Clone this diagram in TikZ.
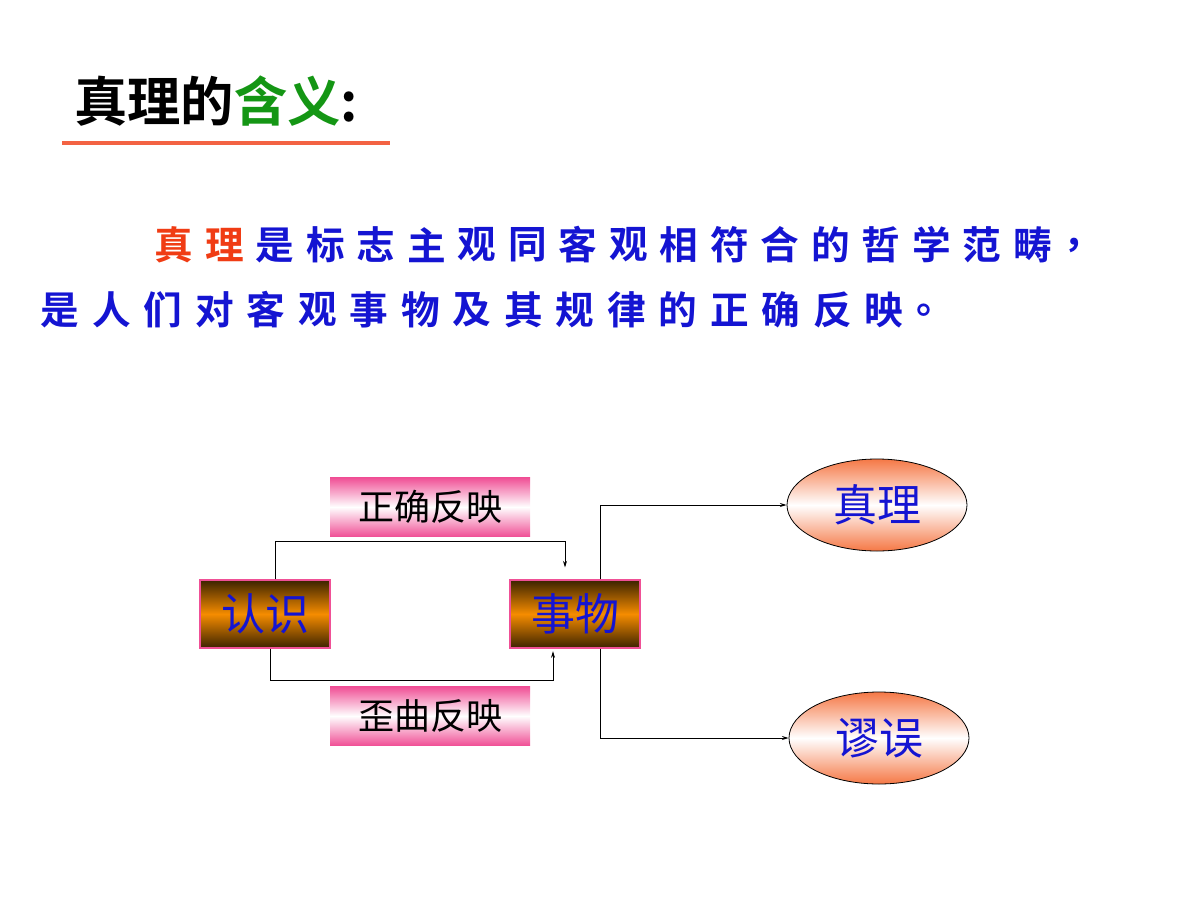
\documentclass[tikz,border=0pt]{standalone}
\usepackage{fontspec}
\setmainfont{Liberation Sans}
\newfontfamily\cjk{Noto Sans CJK SC}
\newfontfamily\cjkb{Noto Sans CJK SC Bold}
\usetikzlibrary{shapes.geometric,arrows.meta}
\definecolor{tblue}{RGB}{20,20,210}
\definecolor{tgreen}{RGB}{20,150,20}
\definecolor{tred}{RGB}{240,60,20}
\definecolor{brn}{RGB}{60,35,0}
\definecolor{org}{RGB}{245,140,0}
\definecolor{pnk}{RGB}{240,80,150}
\definecolor{eorg}{RGB}{245,120,70}
\begin{document}
\begin{tikzpicture}[x=0.75pt,y=-0.75pt,
  thing/.style={draw=pnk,line width=0.8pt,minimum width=97.5pt,minimum height=51pt,top color=brn,bottom color=brn,middle color=org,text=tblue,font=\cjk\fontsize{33}{33}\selectfont,inner sep=0pt},
  lab/.style={minimum width=150pt,minimum height=44pt,top color=pnk,bottom color=pnk,middle color=white,text=black,font=\cjk\fontsize{27}{27}\selectfont,inner sep=0pt},
  res/.style={ellipse,draw=black,line width=0.6pt,minimum width=135pt,minimum height=69pt,top color=eorg,bottom color=eorg,middle color=white,text=tblue,font=\cjk\fontsize{33}{33}\selectfont,inner sep=0pt},
  conn/.style={draw=black,line width=0.6pt,-{Stealth[length=5pt,width=3pt]}},
  para/.style={font=\cjkb\fontsize{29}{29}\selectfont,text=tblue,inner sep=0pt}]
\useasboundingbox (0,0) rectangle (1200,900);
\node[anchor=west,inner sep=0pt,font=\cjkb\fontsize{40}{40}\selectfont] (title) at (74,101) {真理的\textcolor{tgreen}{含义}:};
\draw[tred!80,line width=3pt] (62,143) -- (390,143);
% paragraph
\foreach \c [count=\i from 0] in {真,理}
  \node[para,text=tred] (pa\i) at (174+\i*50.5,245) {\c};
\foreach \c [count=\i from 2] in {是,标,志,主,观,同,客,观,相,符,合,的,哲,学,范,畴,，}
  \node[para] (pa\i) at (174+\i*50.5,245) {\c};
\foreach \c [count=\i from 0] in {是,人,们,对,客,观,事,物,及,其,规,律,的,正,确,反,映,。}
  \node[para] (pb\i) at (60+\i*51.5,310) {\c};
% diagram
\node[thing] (rs) at (265,614) {认识};
\node[thing] (sw) at (575,614) {事物};
\node[lab] (zq) at (430,507) {正确反映};
\node[lab] (wq) at (430,716) {歪曲反映};
\node[res] (zl) at (877,505) {真理};
\node[res] (mw) at (879,738) {谬误};
\coordinate (a1) at (275,541);
\coordinate (a2) at (565,541);
\coordinate (b1) at (270,680);
\coordinate (b2) at (553,680);
\draw[conn] (rs.north -| a1) -- (a1) -- (a2) -- ([yshift=9pt]sw.north -| a2);
\draw[conn] (rs.south -| b1) -- (b1) -- (b2) -- ([yshift=-2pt]sw.south -| b2);
\draw[conn] (sw.north -| 600,0) |- (zl.west);
\draw[conn] (sw.south -| 600,0) |- (mw.west);
\end{tikzpicture}
\end{document}
